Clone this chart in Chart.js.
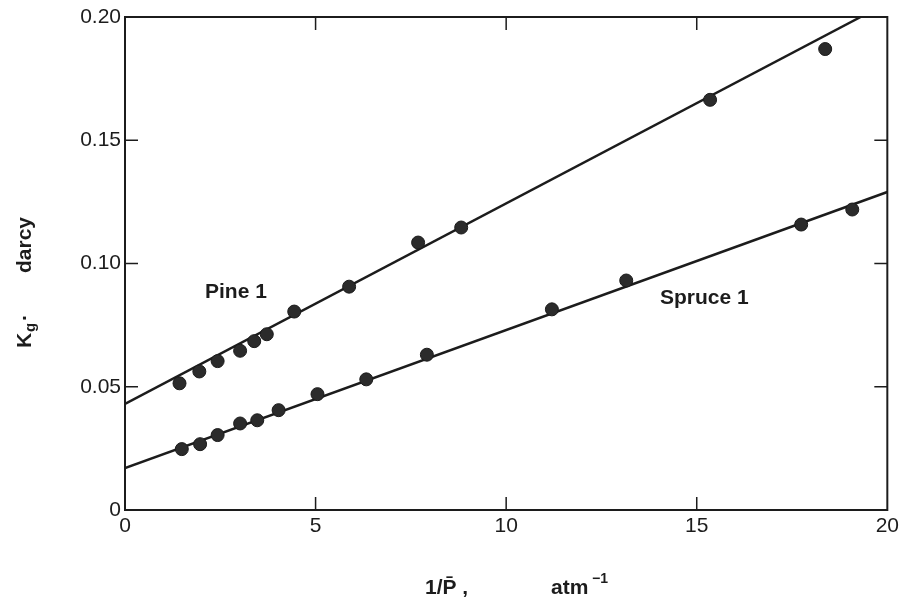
<!DOCTYPE html>
<html>
<head>
<meta charset="utf-8">
<script src="https://cdn.jsdelivr.net/npm/chart.js@4"></script>
<style>
  html, body { margin: 0; padding: 0; background: #fff; }
  #wrap { width: 903px; height: 601px; }
</style>
</head>
<body>
<div id="wrap"><canvas id="chart"></canvas></div>
<script>
// data
const pineX = [1.43, 1.95, 2.43, 3.02, 3.39, 3.72, 4.44, 5.88, 7.69, 8.82, 15.35, 18.37];
const pineY = [0.0514, 0.0562, 0.0604, 0.0646, 0.0685, 0.0713, 0.0805, 0.0906, 0.1085, 0.1146, 0.1664, 0.187];
const spruceX = [1.49, 1.97, 2.43, 3.02, 3.47, 4.03, 5.05, 6.33, 7.92, 11.2, 13.15, 17.74, 19.08];
const spruceY = [0.0247, 0.0267, 0.0304, 0.0351, 0.0364, 0.0405, 0.047, 0.053, 0.063, 0.0814, 0.0931, 0.1158, 0.1219];

// fitted lines (end points)
const pineLineX = [0, 19.3];
const pineLineY = [0.043, 0.2];
const spruceLineX = [0, 20];
const spruceLineY = [0.017, 0.129];

const xTicks = [0, 5, 10, 15, 20];
const yTicks = [0, 0.05, 0.1, 0.15, 0.2];

const ink = "#1c1c1c";
const font = "'Liberation Sans', Arial, sans-serif";

function toPoints(xs, ys) {
  return xs.map((x, i) => ({ x: x, y: ys[i] }));
}

// frame, inward ticks, labels and axis titles
const framePlugin = {
  id: "frame",
  afterDraw(chart) {
    const ctx = chart.ctx;
    const a = chart.chartArea;
    const xs = chart.scales.x;
    const ys = chart.scales.y;
    ctx.save();
    ctx.strokeStyle = ink;
    ctx.lineWidth = 2;
    ctx.strokeRect(a.left, a.top, a.right - a.left, a.bottom - a.top);

    ctx.lineWidth = 1.5;
    const len = 13;
    xTicks.forEach((v) => {
      if (v === 0 || v === 20) return;
      const px = xs.getPixelForValue(v);
      ctx.beginPath();
      ctx.moveTo(px, a.bottom);
      ctx.lineTo(px, a.bottom - len);
      ctx.moveTo(px, a.top);
      ctx.lineTo(px, a.top + len);
      ctx.stroke();
    });
    yTicks.forEach((v) => {
      if (v === 0 || v === 0.2) return;
      const py = ys.getPixelForValue(v);
      ctx.beginPath();
      ctx.moveTo(a.left, py);
      ctx.lineTo(a.left + len, py);
      ctx.moveTo(a.right, py);
      ctx.lineTo(a.right - len, py);
      ctx.stroke();
    });

    // series labels
    ctx.fillStyle = ink;
    ctx.font = "bold 21px " + font;
    ctx.textBaseline = "middle";
    ctx.textAlign = "left";
    ctx.fillText("Pine 1", 205, 292);
    ctx.fillText("Spruce 1", 660, 298);

    // x axis title
    ctx.font = "bold 21px " + font;
    ctx.fillText("1/P\u0304 ,", 425, 588);
    ctx.fillText("atm", 551, 588);
    ctx.font = "bold 14px " + font;
    ctx.fillText("\u22121", 592, 579);

    // y axis title, rotated
    ctx.translate(25, 0);
    ctx.rotate(-Math.PI / 2);
    ctx.font = "bold 21px " + font;
    ctx.fillText("K", -348, 0);
    ctx.font = "bold 15px " + font;
    ctx.fillText("g", -332, 6);
    ctx.font = "bold 21px " + font;
    ctx.fillText("\u00b7", -321, 0);
    ctx.fillText("darcy", -273, 0);
    ctx.restore();
  }
};

const pointStyle = {
  showLine: false,
  pointRadius: 6.5,
  pointBackgroundColor: "#2b2b2b",
  pointBorderColor: "#1a1a1a",
  pointBorderWidth: 1
};

new Chart(document.getElementById("chart"), {
  type: "scatter",
  data: {
    datasets: [
      Object.assign({ label: "Pine 1", data: toPoints(pineX, pineY) }, pointStyle),
      Object.assign({ label: "Spruce 1", data: toPoints(spruceX, spruceY) }, pointStyle),
      {
        label: "Pine fit",
        data: toPoints(pineLineX, pineLineY),
        showLine: true,
        pointRadius: 0,
        borderColor: ink,
        borderWidth: 2.5
      },
      {
        label: "Spruce fit",
        data: toPoints(spruceLineX, spruceLineY),
        showLine: true,
        pointRadius: 0,
        borderColor: ink,
        borderWidth: 2.5
      }
    ]
  },
  options: {
    responsive: true,
    maintainAspectRatio: false,
    animation: false,
    layout: { padding: { top: 17, right: 15, left: 0, bottom: 0 } },
    plugins: {
      legend: { display: false },
      tooltip: { enabled: false }
    },
    scales: {
      x: {
        type: "linear",
        min: 0,
        max: 20,
        afterFit: (s) => { s.height = 91; },
        afterBuildTicks: (s) => { s.ticks = xTicks.map((v) => ({ value: v })); },
        grid: { display: false, drawTicks: false },
        border: { display: false },
        ticks: {
          padding: 4,
          color: ink,
          font: { family: font, size: 21 },
          maxRotation: 0
        }
      },
      y: {
        type: "linear",
        min: 0,
        max: 0.2,
        afterFit: (s) => { s.width = 125; },
        afterBuildTicks: (s) => { s.ticks = yTicks.map((v) => ({ value: v })); },
        grid: { display: false, drawTicks: false },
        border: { display: false },
        ticks: {
          padding: 4,
          color: ink,
          font: { family: font, size: 21 },
          callback: (v) => (v === 0 ? "0" : v.toFixed(2))
        }
      }
    }
  },
  plugins: [framePlugin]
});
</script>
</body>
</html>
